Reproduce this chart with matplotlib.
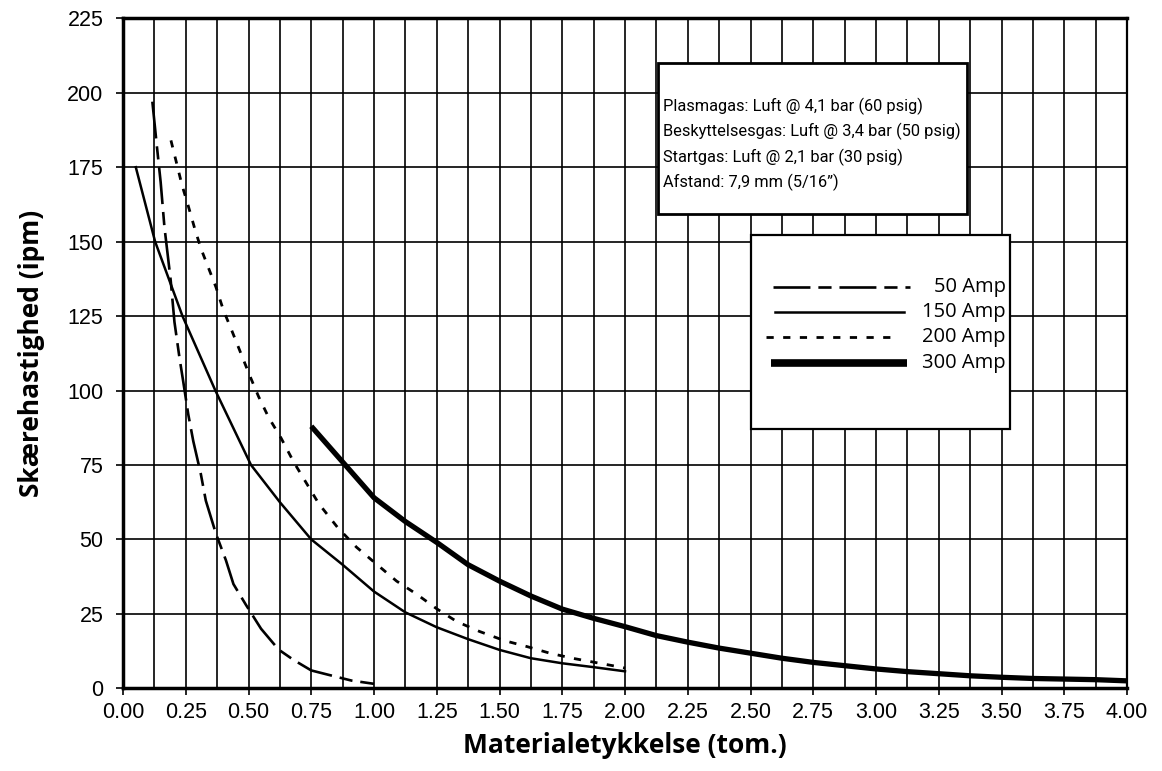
import matplotlib
matplotlib.use("Agg")
import matplotlib.pyplot as plt
from matplotlib.lines import Line2D
from matplotlib.patches import Rectangle
from matplotlib.ticker import MultipleLocator, FormatStrFormatter

# Data (thickness in inch, speed in ipm)
amp50_x = [0.117, 0.135, 0.15, 0.165, 0.19, 0.205, 0.225, 0.24, 0.26, 0.28, 0.31, 0.33,
           0.37, 0.41, 0.44, 0.49, 0.55, 0.62, 0.68, 0.75, 0.82, 0.91, 1.0]
amp50_y = [197, 182, 170, 155, 137, 123, 111, 103, 92, 83, 72, 63,
           52, 43, 35, 28, 20, 13, 9.5, 6, 4.5, 2.6, 1.5]

amp150_x = [0.051, 0.128, 0.237, 0.368, 0.51, 0.625, 0.75, 0.875, 1.0, 1.125, 1.25,
            1.375, 1.5, 1.625, 1.75, 1.875, 2.0]
amp150_y = [175, 150, 125, 100, 75, 62.5, 50, 41.5, 32.5, 25.5, 20.5,
            16.5, 12.9, 10.1, 8.4, 7.1, 5.7]

amp200_x = [0.191, 0.216, 0.235, 0.26, 0.285, 0.31, 0.34, 0.37, 0.40, 0.435, 0.47, 0.505,
            0.54, 0.58, 0.63, 0.68, 0.73, 0.78, 0.855, 0.93, 1.01, 1.09, 1.17, 1.25,
            1.33, 1.42, 1.52, 1.61, 1.70, 1.79, 1.88, 1.97, 2.0]
amp200_y = [184, 175.5, 169, 162, 154.6, 147.8, 141.3, 134.8, 127, 119.8, 112.4, 105,
            98, 91, 84, 76, 69, 62, 54, 47.4, 41.7, 36, 31.6, 26.7,
            22.4, 19.1, 16, 14, 11.8, 10.1, 8.7, 7.3, 6.8]

amp300_x = [0.75, 0.875, 1.0, 1.125, 1.25, 1.375, 1.5, 1.625, 1.75, 1.875, 2.0, 2.125,
            2.25, 2.375, 2.5, 2.625, 2.75, 2.875, 3.0, 3.125, 3.25, 3.375, 3.5, 3.625,
            3.75, 3.875, 4.0]
amp300_y = [88, 76, 64, 56, 49, 41.5, 36, 31, 26.6, 23.5, 20.7, 17.7,
            15.5, 13.5, 11.8, 10.1, 8.7, 7.6, 6.5, 5.6, 4.9, 4.2, 3.7, 3.3,
            3.1, 2.9, 2.5]

legend_labels = ["50 Amp", "150 Amp", "200 Amp", "300 Amp"]
info_lines = [
    "Plasmagas: Luft @ 4,1 bar (60 psig)",
    "Beskyttelsesgas: Luft @ 3,4 bar (50 psig)",
    "Startgas: Luft @ 2,1 bar (30 psig)",
    "Afstand: 7,9 mm (5/16\u201d)",
]

# line styles
styles = [
    dict(color="black", lw=1.9, linestyle=(0, (14, 3, 5, 3))),
    dict(color="black", lw=1.8, linestyle="-"),
    dict(color="black", lw=2.0, linestyle=(0, (2.6, 3.4))),
    dict(color="black", lw=3.8, linestyle="-", solid_capstyle="butt"),
]

plt.rcParams["font.family"] = ["Liberation Sans", "DejaVu Sans"]

fig = plt.figure(figsize=(11.62, 7.71), dpi=100)
ax = fig.add_axes([123 / 1162, 1 - 688.3 / 771, 1004 / 1162, 670 / 771])

ax.set_xlim(0, 4)
ax.set_ylim(0, 225)
ax.xaxis.set_major_locator(MultipleLocator(0.25))
ax.xaxis.set_minor_locator(MultipleLocator(0.125))
ax.yaxis.set_major_locator(MultipleLocator(25))
ax.xaxis.set_major_formatter(FormatStrFormatter("%.2f"))
ax.yaxis.set_major_formatter(FormatStrFormatter("%d"))
ax.grid(which="both", axis="x", color="black", lw=1.2)
ax.grid(which="major", axis="y", color="black", lw=1.2)
ax.set_axisbelow(True)

ax.tick_params(which="major", direction="out", length=5, width=1.2, colors="black",
               labelsize=15.5)
ax.tick_params(which="minor", length=0)
ax.tick_params(axis="y", pad=9)
ax.tick_params(axis="x", pad=5)

for side in ["left", "bottom", "top"]:
    ax.spines[side].set_linewidth(2.5)
ax.spines["right"].set_linewidth(1.6)

label_font = ["Open Sans", "DejaVu Sans"]
ax.set_xlabel("Materialetykkelse (tom.)", family=label_font, fontweight="bold",
              fontsize=19, labelpad=6)
ax.set_ylabel("Skærehastighed (ipm)", family=label_font, fontweight="bold",
              fontsize=19, labelpad=16)

series = [(amp50_x, amp50_y), (amp150_x, amp150_y), (amp200_x, amp200_y),
          (amp300_x, amp300_y)]
for (xs, ys), st in zip(series, styles):
    ax.plot(xs, ys, zorder=3, **st)

# info box
ax.add_patch(Rectangle((0.533, 0.708), 0.308, 0.225, transform=ax.transAxes,
                       facecolor="white", edgecolor="black", lw=2, zorder=5))
info_font = ["Roboto", "DejaVu Sans"]
for i, line in enumerate(info_lines):
    ax.text(0.538, 0.868 - i * 0.0375, line, transform=ax.transAxes, family=info_font,
            fontsize=11.8, va="center", ha="left", zorder=6)

# legend box
ax.add_patch(Rectangle((0.625, 0.387), 0.258, 0.289, transform=ax.transAxes,
                       facecolor="white", edgecolor="black", lw=1.6, zorder=5))
leg_y = [0.599, 0.562, 0.524, 0.486]
leg_x = [(0.647, 0.784), (0.649, 0.778), (0.640, 0.771), (0.645, 0.781)]
for lab, st, yy, (x0, x1) in zip(legend_labels, styles, leg_y, leg_x):
    st2 = dict(st)
    if lab == "300 Amp":
        st2["lw"] = 5.5
    ax.add_line(Line2D([x0, x1], [yy, yy], transform=ax.transAxes, zorder=6, **st2))
    ax.text(0.879, yy, lab, transform=ax.transAxes, family=label_font, fontsize=14.5,
            va="center", ha="right", zorder=6)

fig.savefig("out.png", dpi=100)
